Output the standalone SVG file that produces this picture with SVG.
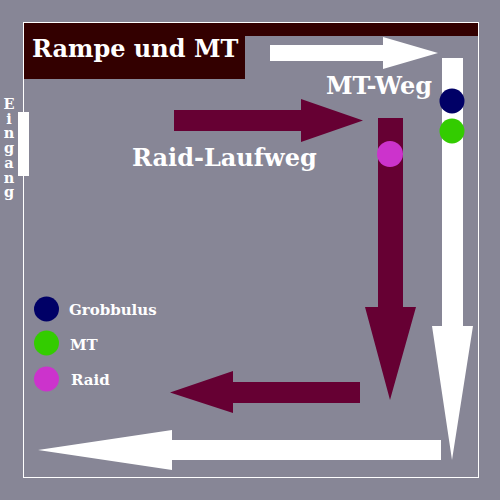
<svg xmlns="http://www.w3.org/2000/svg" width="500" height="500" viewBox="0 0 500 500">
<style>
text{font-family:"DejaVu Serif","Liberation Serif",serif;font-weight:bold;fill:#ffffff}
.big{font-size:24px}
.leg{font-size:15px}
.ent{font-size:14.5px;writing-mode:vertical-rl;text-orientation:upright;letter-spacing:-2.3px}
.w{fill:#ffffff}
.r{fill:#660033}
</style>
<rect x="0" y="0" width="500" height="500" fill="#878696"/>
<rect x="23.5" y="22.5" width="455" height="455" fill="none" stroke="#ffffff" stroke-width="1"/>
<g id="header">
<rect x="24" y="23" width="454" height="13" fill="#330000"/>
<rect x="24" y="23" width="221" height="56" fill="#330000"/>
<text class="big" x="32" y="57">Rampe und MT</text>
</g>
<g id="entrance">
<rect x="18" y="112" width="11" height="64" class="w"/>
<text class="ent" x="9" y="95">Eingang</text>
</g>
<g id="connectors">
<polygon class="w" points="270,45 383,45 383,37 438,53 383,69 383,61 270,61"/>
<polygon class="w" points="442,58 463,58 463,326 473,326 452,460 432,326 442,326"/>
<polygon class="w" points="441,440 172,440 172,430 38,450 172,470 172,460 441,460"/>
<polygon class="r" points="174,110 301,110 301,99 363,120.5 301,142 301,131 174,131"/>
<polygon class="r" points="378,118 403,118 403,307 416,307 390,400 365,307 378,307"/>
<polygon class="r" points="360,382 233,382 233,371 170,392.5 233,413 233,403 360,403"/>
</g>
<g id="mt-weg-label"><text class="big" x="326" y="94">MT-Weg</text></g>
<g id="raid-laufweg-label"><text class="big" x="132" y="166">Raid-Laufweg</text></g>
<g id="marker-grobbulus"><circle cx="452" cy="101" r="12.5" fill="#000066"/></g>
<g id="marker-mt"><circle cx="452" cy="131" r="12.5" fill="#33cc00"/></g>
<g id="marker-raid"><circle cx="390" cy="154" r="13" fill="#cc33cc"/></g>
<g id="legend">
<circle cx="46.5" cy="309" r="12.5" fill="#000066"/>
<text class="leg" x="69" y="315">Grobbulus</text>
<circle cx="46.5" cy="343" r="12.5" fill="#33cc00"/>
<text class="leg" x="70" y="350">MT</text>
<circle cx="46.5" cy="379" r="12.5" fill="#cc33cc"/>
<text class="leg" x="71" y="385">Raid</text>
</g>
</svg>
